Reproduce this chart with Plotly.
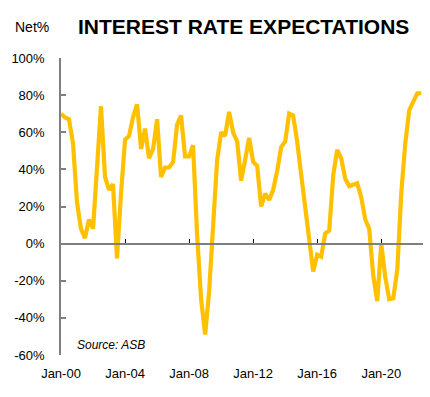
import plotly.graph_objects as go
import pandas as pd

# Quarterly net % of respondents expecting higher interest rates (ASB survey)
start_quarter = "2000-01-01"
values = [
    70, 68, 67, 54, 22, 8, 3, 13, 8, 42, 74, 36, 29, 32, -8, 27,
    56, 58, 68, 75, 51, 62, 46, 51, 67, 36, 41, 41, 44, 64, 69, 47,
    47, 53, 5, -30, -49, -26, 10, 45, 60, 58, 71, 60, 55, 34, 45, 57,
    44, 42, 20, 27, 23.5, 29, 39, 52, 55, 70, 69, 55, 37, 19, 1, -15,
    -6, -7, 5.5, 7, 37, 50.5, 46, 35, 31, 32, 32.5, 25, 13, 8, -17, -31,
    0, -18, -30, -29.5, -14, 27, 54, 72, 77, 81, 81,
]
dates = pd.date_range(start_quarter, periods=len(values), freq="QS")

tick_dates = ["2000-01-01", "2004-01-01", "2008-01-01", "2012-01-01", "2016-01-01", "2020-01-01"]
tick_labels = ["Jan-00", "Jan-04", "Jan-08", "Jan-12", "Jan-16", "Jan-20"]
y_ticks = [-60, -40, -20, 0, 20, 40, 60, 80, 100]
y_labels = ["-60%", "-40%", "-20%", "0%", "20%", "40%", "60%", "80%", "100%"]

x_range = ["2000-01-01", "2022-08-10"]
font = "Liberation Sans, Arial, sans-serif"
axis_grey = "#7f7f7f"

L, R, T, B = 61, 7, 58, 42
W, H = 430, 397

fig = go.Figure()
fig.add_trace(go.Scatter(
    x=dates, y=values, mode="lines",
    line=dict(color="#FFC000", width=4.2),
    hoverinfo="skip", showlegend=False,
))
# invisible trace to host the zero-line axis
fig.add_trace(go.Scatter(
    x=dates, y=values, mode="lines", xaxis="x2",
    line=dict(width=0), opacity=0, hoverinfo="skip", showlegend=False,
))

fig.update_layout(
    width=W, height=H,
    margin=dict(l=L, r=R, t=T, b=B, autoexpand=False),
    paper_bgcolor="white", plot_bgcolor="white",
    font=dict(family=font, size=13, color="black"),
    xaxis=dict(
        type="date", range=x_range, automargin=False,
        tickvals=tick_dates, ticktext=tick_labels,
        showgrid=False, zeroline=False, showline=False,
        ticks="outside", ticklen=6, tickcolor="rgba(0,0,0,0)",
        tickfont=dict(size=13),
    ),
    xaxis2=dict(
        type="date", range=x_range, overlaying="x", automargin=False,
        anchor="free", position=0.375,
        tickvals=tick_dates, showticklabels=False,
        showgrid=False, zeroline=False,
        showline=True, linecolor=axis_grey, linewidth=1.5,
        ticks="inside", ticklen=4, tickcolor="black", tickwidth=1,
    ),
    yaxis=dict(
        range=[-60, 100], tickvals=y_ticks, ticktext=y_labels, automargin=False,
        showgrid=False, zeroline=False,
        showline=True, linecolor=axis_grey, linewidth=1.5,
        ticks="inside", ticklen=5, tickcolor=axis_grey, tickwidth=1.5,
        ticklabelstandoff=12,
        tickfont=dict(size=13),
    ),
)

pw = W - L - R
ph = H - T - B


def paper(px, py):
    return (px - L) / pw, 1 - (py - T) / ph


for text, px, py, anchor, size in [
    ("<b>INTEREST RATE EXPECTATIONS</b>", 243, 27, "center", 21),
    ("Net%", 32, 27, "center", 14),
    ("<i>Source: ASB</i>", 75, 345, "left", 12),
]:
    x, y = paper(px, py)
    fig.add_annotation(text=text, x=x, y=y, xref="paper", yref="paper",
                       xanchor=anchor, yanchor="middle", showarrow=False,
                       font=dict(size=size, family=font, color="black"))

fig.write_html(
    "out.html",
    config={"displayModeBar": False},
    post_script="document.body.style.margin='0px';document.body.style.overflow='hidden';",
)
